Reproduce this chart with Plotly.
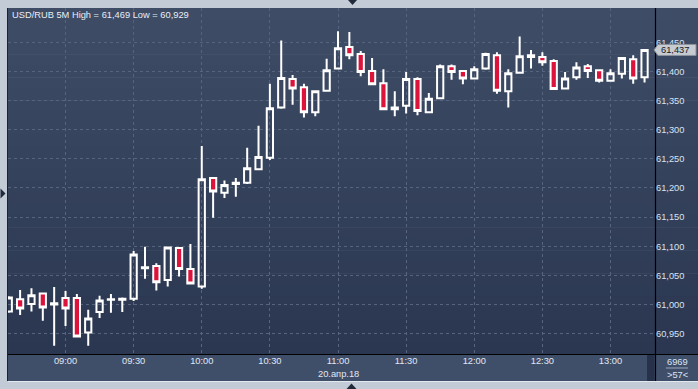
import plotly.graph_objects as go

# ---------------- data ----------------
date = "2018-04-20"
symbol = "USD/RUB 5M"
date_label = "20.апр.18"
volume_label = "6969"

times = ["08:35", "08:40", "08:45", "08:50", "08:55", "09:00", "09:05", "09:10", "09:15", "09:20",
         "09:25", "09:30", "09:35", "09:40", "09:45", "09:50", "09:55", "10:00", "10:05", "10:10",
         "10:15", "10:20", "10:25", "10:30", "10:35", "10:40", "10:45", "10:50", "10:55", "11:00",
         "11:05", "11:10", "11:15", "11:20", "11:25", "11:30", "11:35", "11:40", "11:45", "11:50",
         "11:55", "12:00", "12:05", "12:10", "12:15", "12:20", "12:25", "12:30", "12:35", "12:40",
         "12:45", "12:50", "12:55", "13:00", "13:05", "13:10", "13:15"]

opens = [60.988, 61.009, 61.001, 61.019, 61.000, 61.011, 61.011, 60.952, 60.987, 61.008,
         61.008, 61.010, 61.062, 61.066, 61.042, 61.097, 61.061, 61.031, 61.217, 61.192,
         61.207, 61.209, 61.232, 61.252, 61.338, 61.387, 61.373, 61.330, 61.367, 61.405,
         61.442, 61.430, 61.401, 61.380, 61.335, 61.341, 61.387, 61.330, 61.354, 61.409,
         61.401, 61.388, 61.405, 61.428, 61.366, 61.398, 61.428, 61.425, 61.418, 61.371,
         61.390, 61.409, 61.402, 61.384, 61.396, 61.421, 61.390]

highs = [61.014, 61.025, 61.028, 61.020, 61.030, 61.023, 61.018, 60.991, 61.015, 61.018,
         61.012, 61.092, 61.099, 61.071, 61.098, 61.097, 61.104, 61.272, 61.219, 61.213,
         61.217, 61.269, 61.307, 61.379, 61.453, 61.394, 61.379, 61.368, 61.422, 61.469,
         61.468, 61.435, 61.423, 61.404, 61.366, 61.399, 61.390, 61.363, 61.412, 61.412,
         61.401, 61.409, 61.432, 61.433, 61.404, 61.460, 61.437, 61.433, 61.421, 61.399,
         61.416, 61.413, 61.402, 61.404, 61.423, 61.428, 61.437]

lows = [60.986, 60.982, 60.988, 60.972, 60.929, 60.963, 60.945, 60.929, 60.977, 60.986,
        60.987, 61.006, 61.044, 61.024, 61.031, 61.048, 61.036, 61.027, 61.149, 61.183,
        61.185, 61.207, 61.232, 61.248, 61.336, 61.343, 61.321, 61.323, 61.367, 61.404,
        61.421, 61.392, 61.378, 61.335, 61.323, 61.328, 61.325, 61.330, 61.353, 61.386,
        61.378, 61.388, 61.403, 61.362, 61.338, 61.396, 61.405, 61.410, 61.370, 61.371,
        61.386, 61.389, 61.381, 61.384, 61.388, 61.379, 61.381]

closes = [61.012, 60.993, 61.016, 60.995, 61.002, 60.993, 60.945, 60.976, 61.007, 61.009,
          61.010, 61.086, 61.064, 61.038, 61.098, 61.061, 61.036, 61.215, 61.194, 61.205,
          61.209, 61.234, 61.253, 61.337, 61.389, 61.371, 61.330, 61.366, 61.402, 61.440,
          61.428, 61.399, 61.378, 61.335, 61.338, 61.387, 61.332, 61.353, 61.409, 61.399,
          61.388, 61.404, 61.430, 61.367, 61.397, 61.426, 61.425, 61.416, 61.370, 61.388,
          61.407, 61.401, 61.384, 61.397, 61.423, 61.388, 61.437]

x_tick_labels = ["09:00", "09:30", "10:00", "10:30", "11:00", "11:30", "12:00", "12:30", "13:00"]
y_ticks = [60.95, 61.00, 61.05, 61.10, 61.15, 61.20, 61.25, 61.30, 61.35, 61.40, 61.45]

# ---------------- layout helpers ----------------
W, H = 698, 389
FONT = "Liberation Sans, Arial, sans-serif"


def px(x):
    return x / W


def py(y):
    return 1 - y / H


def fmt(v):
    return f"{v:.3f}".replace(".", ",")


PLOT_L, PLOT_R, PLOT_T, PLOT_B = 8, 655, 8, 354

shapes = []

# gradient background of chart + right scale panel
top_c = (62, 76, 102)
bot_c = (43, 55, 81)
N = 30
for k in range(N):
    t = k / (N - 1)
    c = tuple(round(top_c[i] + (bot_c[i] - top_c[i]) * t) for i in range(3))
    y0 = PLOT_T + (PLOT_B - PLOT_T) * k / N
    y1 = PLOT_T + (PLOT_B - PLOT_T) * (k + 1) / N + 0.6
    shapes.append(dict(type="rect", xref="paper", yref="paper", x0=px(PLOT_L), x1=1,
                       y0=py(y1), y1=py(y0), fillcolor="rgb(%d,%d,%d)" % c,
                       line=dict(width=0), layer="below"))

# bottom time-axis panel
shapes.append(dict(type="rect", xref="paper", yref="paper", x0=px(PLOT_L), x1=1,
                   y0=py(381), y1=py(PLOT_B), fillcolor="#3f4e69", line=dict(width=0), layer="below"))
# dark scroll strip
shapes.append(dict(type="rect", xref="paper", yref="paper", x0=px(647), x1=px(654.5),
                   y0=py(381), y1=py(355), fillcolor="#27324a", line=dict(width=0), layer="below"))
# light bottom edge
shapes.append(dict(type="line", xref="paper", yref="paper", x0=px(PLOT_L), x1=1,
                   y0=py(381.5), y1=py(381.5), line=dict(color="#e3e8ef", width=1), layer="above"))
# black frame lines
shapes.append(dict(type="line", xref="paper", yref="paper", x0=px(PLOT_L), x1=1,
                   y0=py(354.5), y1=py(354.5), line=dict(color="#000000", width=1), layer="above"))
shapes.append(dict(type="line", xref="paper", yref="paper", x0=px(655.5), x1=px(655.5),
                   y0=py(381), y1=py(PLOT_T), line=dict(color="#000000", width=1.2), layer="above"))
shapes.append(dict(type="line", xref="paper", yref="paper", x0=px(7.5), x1=px(7.5),
                   y0=py(381), y1=py(PLOT_T), line=dict(color="#1b2130", width=1), layer="above"))
# separator line in right-bottom cell
shapes.append(dict(type="line", xref="paper", yref="paper", x0=px(666), x1=px(688),
                   y0=py(368), y1=py(368), line=dict(color="#9aa7bd", width=1), layer="above"))

# frame triangles
tri_col = "#1f2a3b"
shapes.append(dict(type="path", xref="paper", yref="paper",
                   path=f"M {px(348)},{py(0)} L {px(357)},{py(0)} L {px(352.5)},{py(5)} Z",
                   fillcolor=tri_col, line=dict(width=0)))
shapes.append(dict(type="path", xref="paper", yref="paper",
                   path=f"M {px(0.5)},{py(188.5)} L {px(5.5)},{py(193.5)} L {px(0.5)},{py(198.5)} Z",
                   fillcolor=tri_col, line=dict(width=0)))
shapes.append(dict(type="path", xref="paper", yref="paper",
                   path=f"M {px(346.5)},{py(389)} L {px(356.5)},{py(389)} L {px(351.5)},{py(383.5)} Z",
                   fillcolor=tri_col, line=dict(width=0)))

# last price tag
last = closes[-1]
shapes.append(dict(type="path", xref="paper", yref="y", ysizemode="pixel", yanchor=last,
                   path=f"M {px(654)},0 L {px(658)},5.5 L {px(696)},5.5 L {px(696)},-5.5 L {px(658)},-5.5 Z",
                   fillcolor="#c7cbd2", line=dict(color="#8c929c", width=1), layer="above"))

annotations = [
    dict(text=f"{symbol} High = {fmt(max(highs))} Low = {fmt(min(lows))}", xref="paper", yref="paper",
         x=px(10), y=py(15), xanchor="left", yanchor="middle", showarrow=False,
         font=dict(family=FONT, size=9.3, color="#e8eef6")),
    dict(text=date_label, xref="paper", yref="paper", x=px(338), y=py(374), xanchor="center",
         yanchor="middle", showarrow=False, font=dict(family=FONT, size=9.3, color="#e0e8f4")),
    dict(text=volume_label, xref="paper", yref="paper", x=px(677), y=py(361.5), xanchor="center",
         yanchor="middle", showarrow=False, font=dict(family=FONT, size=9.3, color="#dbe6f6")),
    dict(text=f"&gt;{len(times)}&lt;", xref="paper", yref="paper", x=px(677), y=py(374.5), xanchor="center",
         yanchor="middle", showarrow=False, font=dict(family=FONT, size=9.3, color="#dbe6f6")),
    dict(text=fmt(last), xref="paper", yref="y", x=px(659), y=last, xanchor="left",
         yanchor="middle", showarrow=False, font=dict(family=FONT, size=9.3, color="#1a1a1a")),
]

fig = go.Figure()
fig.add_trace(go.Candlestick(
    x=[f"{date} {t}" for t in times],
    open=opens, high=highs, low=lows, close=closes,
    increasing=dict(line=dict(color="#ffffff", width=2), fillcolor="rgba(0,0,0,0)"),
    decreasing=dict(line=dict(color="#ffffff", width=2), fillcolor="#dc143c"),
    whiskerwidth=0, showlegend=False, hoverinfo="skip",
))

grid = dict(showgrid=True, gridcolor="#56647f", griddash="3px,3px", gridwidth=1,
            zeroline=False, showline=False, ticks="")

fig.update_layout(
    width=W, height=H, autosize=False,
    margin=dict(l=0, r=0, t=0, b=0, pad=0),
    paper_bgcolor="#c3cbd7", plot_bgcolor="rgba(0,0,0,0)",
    separators=", ",
    boxgap=0.45, boxgroupgap=0,
    showlegend=False,
    shapes=shapes, annotations=annotations,
    xaxis=dict(type="date", domain=[px(PLOT_L), px(PLOT_R)],
               range=[f"{date} 08:34:40", f"{date} 13:19:36"],
               tickvals=[f"{date} {t}" for t in x_tick_labels], ticktext=x_tick_labels,
               tickfont=dict(family=FONT, size=9.3, color="#e0e8f4"),
               rangeslider=dict(visible=False), **grid),
    yaxis=dict(domain=[py(PLOT_B), py(PLOT_T)], range=[60.915, 61.509], side="right",
               tickvals=y_ticks, tickformat=".3f",
               tickfont=dict(family=FONT, size=9.3, color="#d6e3f5"), **grid),
)

fig.write_html("out.html")
